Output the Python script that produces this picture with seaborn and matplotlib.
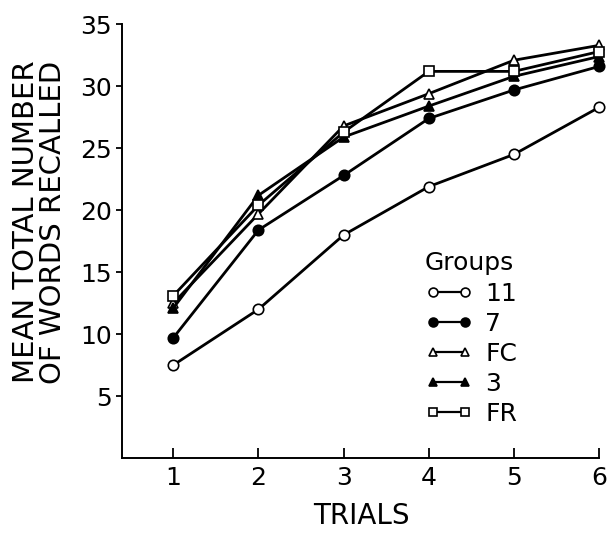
import matplotlib
matplotlib.use("Agg")
import matplotlib.pyplot as plt
import seaborn as sns
import pandas as pd

trials = [1, 2, 3, 4, 5, 6]
groups = ["11", "7", "FC", "3", "FR"]
g11 = [7.5, 12.0, 18.0, 21.9, 24.5, 28.3]
g7 = [9.7, 18.4, 22.8, 27.4, 29.7, 31.6]
gfc = [12.5, 19.7, 26.8, 29.4, 32.1, 33.3]
g3 = [12.1, 21.2, 25.9, 28.4, 30.8, 32.4]
gfr = [13.1, 20.4, 26.3, 31.2, 31.2, 32.8]

values = {"11": g11, "7": g7, "FC": gfc, "3": g3, "FR": gfr}
rows = []
for g in groups:
    for t, v in zip(trials, values[g]):
        rows.append({"Trial": t, "Recalled": v, "Group": g})
df = pd.DataFrame(rows)

# marker shape and fill per group
styles = {
    "11": ("o", "white"),
    "7": ("o", "black"),
    "FC": ("^", "white"),
    "3": ("^", "black"),
    "FR": ("s", "white"),
}

sns.set_style("ticks", {"text.color": "black", "axes.labelcolor": "black",
                        "xtick.color": "black", "ytick.color": "black",
                        "axes.edgecolor": "black"})
plt.rcParams["font.family"] = ["DejaVu Sans"]

fig = plt.figure(figsize=(6.07, 5.34), dpi=100)
ax = fig.add_axes([0.2005, 0.1423, 0.7865, 0.8122])

for g in groups:
    m, fc = styles[g]
    sub = df[df["Group"] == g]
    sns.lineplot(data=sub, x="Trial", y="Recalled", ax=ax, color="black",
                 marker=m, markersize=7.5 if m != "s" else 7,
                 markerfacecolor=fc, markeredgecolor="black",
                 markeredgewidth=1.2, linewidth=2.0, label=g, clip_on=False)

ax.set_xlim(0.394, 6.0)
ax.set_ylim(0, 35)
ax.set_xticks(trials)
ax.set_yticks([5, 10, 15, 20, 25, 30, 35])
ax.tick_params(axis="x", direction="in", length=7, width=1.3, pad=6, labelsize=18)
ax.tick_params(axis="y", direction="out", length=4, width=1.3, pad=3, labelsize=18)
sns.despine(ax=ax)
for s in ["left", "bottom"]:
    ax.spines[s].set_linewidth(1.4)

ax.set_xlabel("TRIALS", fontsize=20)
ax.set_ylabel("MEAN TOTAL NUMBER\nOF WORDS RECALLED", fontsize=21, linespacing=0.95)
ax.xaxis.set_label_coords(0.503, -0.102)
ax.xaxis.label.set_va("top")
ax.yaxis.set_label_coords(-0.115, 0.544)

leg = ax.legend(loc="upper left", bbox_to_anchor=(425 / 607, 1 - 251 / 534),
                bbox_transform=fig.transFigure, frameon=False, title="Groups",
                fontsize=18, title_fontsize=18, numpoints=2, handlelength=1.9,
                handletextpad=0.5, labelspacing=0.24, borderpad=0, borderaxespad=0,
                markerscale=0.85, alignment="left")
leg._legend_box.sep = 5
for h in leg.get_lines():
    h.set_linewidth(1.6)

fig.savefig("out.png", dpi=100)
